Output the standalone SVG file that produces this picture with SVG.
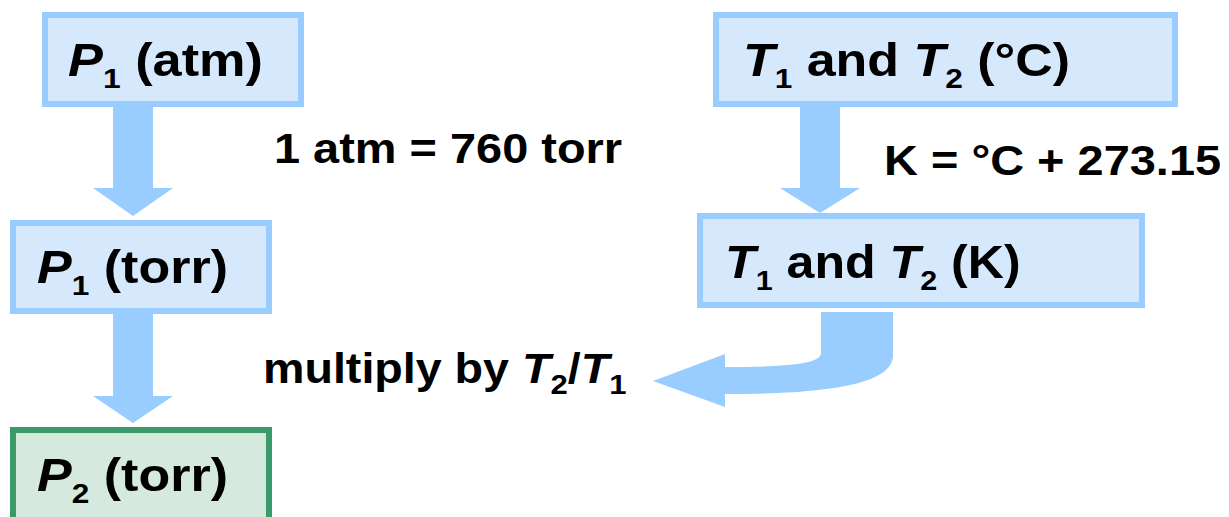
<svg xmlns="http://www.w3.org/2000/svg" width="1229" height="517" viewBox="0 0 1229 517">
  <style>
    .box { fill: #d5e8fc; stroke: #99ccff; stroke-width: 6; }
    .box-final { fill: #d5e9de; stroke: #3a9a6a; stroke-width: 6; }
    .arrow { fill: #99ccff; stroke: none; }
    text { font-family: "Liberation Sans", Arial, sans-serif; font-weight: bold; fill: #000; }
    .node-label { font-size: 46px; }
    .edge-label { font-size: 42px; }
    .var { font-style: italic; }
    .sub { font-size: 28px; }
  </style>
  <rect width="1229" height="517" fill="#ffffff"/>

  <g id="connectors">
    <!-- P1 (atm) to P1 (torr) -->
    <polygon class="arrow" points="113,107 153,107 153,188 173,188 133,216 93,188 113,188"/>
    <!-- P1 (torr) to P2 (torr) -->
    <polygon class="arrow" points="113,314 153,314 153,396 173,396 133,423 93,396 113,396"/>
    <!-- T (°C) to T (K) -->
    <polygon class="arrow" points="800,107 840,107 840,188 860,188 820,213 780,188 800,188"/>
    <!-- T (K) curving back to the pressure column -->
    <path class="arrow" d="M 821 312 L 893 312 L 893 355 C 893 382 840 394 725 394 L 725 407 L 653 381 L 725 354 L 725 367 C 800 367 821 362 821 353 Z"/>
    <text class="edge-label" transform="translate(274,163) scale(1.117,1)">1 atm = 760 torr</text>
    <text class="edge-label" transform="translate(884,175) scale(1.118,1)">K = °C + 273.15</text>
    <text class="edge-label" transform="translate(263,383) scale(1.11,1)">multiply by <tspan class="var">T</tspan><tspan class="sub" dy="11">2</tspan><tspan dy="-11">/</tspan><tspan class="var">T</tspan><tspan class="sub" dy="11">1</tspan></text>
  </g>

  <g id="node-p1-atm">
    <rect class="box" x="45" y="15" width="256" height="89"/>
    <text class="node-label" transform="translate(68,76) scale(1.137,1)"><tspan class="var">P</tspan><tspan class="sub" dy="12">1</tspan><tspan dy="-12"> (atm)</tspan></text>
  </g>

  <g id="node-p1-torr">
    <rect class="box" x="13" y="223" width="256" height="88"/>
    <text class="node-label" transform="translate(37,283) scale(1.131,1)"><tspan class="var">P</tspan><tspan class="sub" dy="12">1</tspan><tspan dy="-12"> (torr)</tspan></text>
  </g>

  <g id="node-p2-torr">
    <rect class="box-final" x="13" y="430" width="256" height="100"/>
    <text class="node-label" transform="translate(37,491) scale(1.131,1)"><tspan class="var">P</tspan><tspan class="sub" dy="12">2</tspan><tspan dy="-12"> (torr)</tspan></text>
  </g>

  <g id="node-t-celsius">
    <rect class="box" x="716" y="15" width="459" height="89"/>
    <text class="node-label" transform="translate(743,76) scale(1.129,1)"><tspan class="var">T</tspan><tspan class="sub" dy="12">1</tspan><tspan dy="-12"> and </tspan><tspan class="var">T</tspan><tspan class="sub" dy="12">2</tspan><tspan dy="-12"> (°C)</tspan></text>
  </g>

  <g id="node-t-kelvin">
    <rect class="box" x="700" y="216" width="442" height="89"/>
    <text class="node-label" transform="translate(725,278) scale(1.09,1)"><tspan class="var">T</tspan><tspan class="sub" dy="12">1</tspan><tspan dy="-12"> and </tspan><tspan class="var">T</tspan><tspan class="sub" dy="12">2</tspan><tspan dy="-12"> (K)</tspan></text>
  </g>
</svg>
